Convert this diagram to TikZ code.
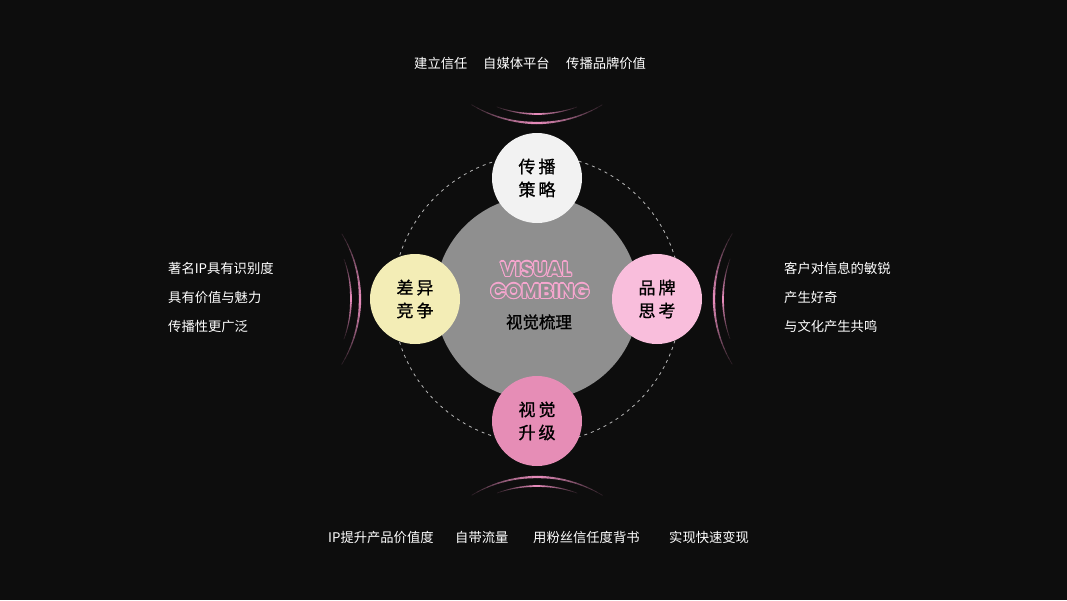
\documentclass[tikz,border=0pt]{standalone}
\usepackage{fontspec}
\setmainfont{Poppins}
\newfontfamily\cjk{Noto Sans CJK SC}
\newfontfamily\cjkbold{Noto Sans CJK SC}[FakeBold=1]
\newfontfamily\headfont{Poppins}
\usepackage{tikz}
\usetikzlibrary{positioning}
\definecolor{bgdark}{HTML}{0D0D0D}
\definecolor{coregray}{HTML}{8F8F8F}
\definecolor{ringgray}{HTML}{B8B8B8}
\definecolor{satwhite}{HTML}{F2F2F2}
\definecolor{satyellow}{HTML}{F3EDB6}
\definecolor{satpink}{HTML}{F9BEDC}
\definecolor{satrose}{HTML}{E68DB6}
\definecolor{arcpink}{HTML}{EC8FC0}
\definecolor{vispink}{HTML}{F7A6CF}

\begin{document}
\begin{tikzpicture}[x=1pt,y=-1pt,
  sat/.style={circle,minimum size=90pt,inner sep=0pt,align=center,text=black,
    font=\cjkbold\fontsize{17}{23}\selectfont},
  side/.style={anchor=west,inner sep=0pt,text=white,font=\cjk\fontsize{13.3}{16}\selectfont},
  vis/.style={font=\headfont\bfseries\fontsize{20}{22}\selectfont},
  halo/.style={line cap=butt}]
\fill[bgdark] (0,0) rectangle (1067,600);
\useasboundingbox (0,0) rectangle (1067,600);
% dashed ring
\draw[ringgray, dash pattern=on 3pt off 4pt, line width=0.8pt] (537,299) circle[radius=144];
% core circle
\node[circle, fill=coregray, minimum size=204pt, inner sep=0pt] (core) at (537,298) {};
\foreach \t [count=\i] in {0,30,...,330} {
  \path (536,269) ++(\t:1.1) node[vis, text=vispink] (visO\i) {VISUAL};
  \path (540,291) ++(\t:1.1) node[vis, text=vispink] (combO\i) {COMBING};
}
\node[vis, text=coregray] (vis) at (536,269) {VISUAL};
\node[vis, text=coregray] (comb) at (540,291) {COMBING};
\node[font=\cjkbold\fontsize{16.5}{18}\selectfont, text=black] (title) at (539,322) {视觉梳理};
% satellites
\node[sat, fill=satwhite]  (spread)  at (537,178) {传\hspace{3pt}播\\策\hspace{3pt}略};
\node[sat, fill=satyellow] (diff)    at (415,299) {差\hspace{3pt}异\\竞\hspace{3pt}争};
\node[sat, fill=satpink]   (brand)   at (657,299) {品\hspace{3pt}牌\\思\hspace{3pt}考};
\node[sat, fill=satrose]   (upgrade) at (537,421) {视\hspace{3pt}觉\\升\hspace{3pt}级};
% fading arcs
\coordinate (ht) at (537,-3);
\coordinate (hb) at (537,603);
\coordinate (hl) at (234,299);
\coordinate (hr) at (840,299);
\foreach \c/\m in {ht/90, hb/270, hl/0, hr/180} {
  \foreach \k in {-12,...,11} {
    \pgfmathsetmacro\f{100-88*abs(\k+0.5)/12}
    \pgfmathsetmacro\w{0.6+1.8*(1-abs(\k+0.5)/12)}
    \pgfmathsetmacro\a{\m+\k*2.6}
    \pgfmathsetmacro\b{\a+2.75}
    \draw[halo, arcpink!\f!bgdark, line width=\w pt] (\c) ++(\a:126) arc[start angle=\a, end angle=\b, radius=126];
    \pgfmathsetmacro\a{\m+\k*1.67}
    \pgfmathsetmacro\b{\a+1.8}
    \pgfmathsetmacro\w{0.5+1.4*(1-abs(\k+0.5)/12)}
    \draw[halo, arcpink!\f!bgdark, line width=\w pt] (\c) ++(\a:117) arc[start angle=\a, end angle=\b, radius=117];
  }
}
% top line
\node[side] (t1) at (414,63) {建立信任};
\node[side] (t2) at (483,63) {自媒体平台};
\node[side] (t3) at (566,63) {传播品牌价值};
% bottom line
\node[side] (b1) at (328,537) {IP提升产品价值度};
\node[side] (b2) at (455,537) {自带流量};
\node[side] (b3) at (533,537) {用粉丝信任度背书};
\node[side] (b4) at (669,537) {实现快速变现};
% left lines
\node[side] (l1) at (168,268) {著名IP具有识别度};
\node[side] (l2) at (168,297) {具有价值与魅力};
\node[side] (l3) at (168,326) {传播性更广泛};
% right lines
\node[side] (r1) at (784,268) {客户对信息的敏锐};
\node[side] (r2) at (784,297) {产生好奇};
\node[side] (r3) at (784,326) {与文化产生共鸣};
\end{tikzpicture}
\end{document}
